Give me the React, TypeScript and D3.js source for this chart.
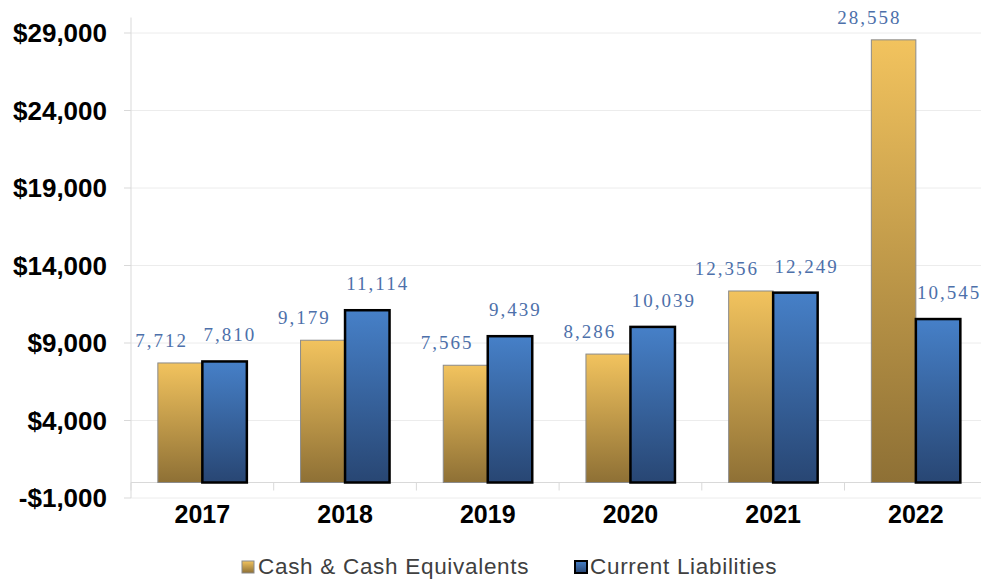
import React from "react";
import * as d3 from "d3";

const years = ["2017", "2018", "2019", "2020", "2021", "2022"];
const cashValues = [7712, 9179, 7565, 8286, 12356, 28558];
const liabilityValues = [7810, 11114, 9439, 10039, 12249, 10545];
const yTicks = [-1000, 4000, 9000, 14000, 19000, 24000, 29000];
const seriesNames = ["Cash & Cash Equivalents", "Current Liabilities"];

const W = 981;
const H = 580;

export default function App() {
  const left = 131;
  const catStep = 142.7;
  const x = d3
    .scaleBand<string>()
    .domain(years)
    .range([left, left + catStep * years.length])
    .paddingInner(0)
    .paddingOuter(0);
  const y = d3.scaleLinear().domain([-1000, 30000]).range([498, 17.5]);
  const groupW = 89;
  const barW = groupW / 2;
  const fmt = d3.format(",");

  const labelFont = "'Liberation Serif', 'Times New Roman', serif";
  const axisFont = "'Liberation Sans', Arial, sans-serif";
  const labelColor = "#4d70aa";

  return (
    <svg width={W} height={H} style={{ position: "absolute", left: 0, top: 0, background: "#fff" }}>
      <defs>
        <linearGradient id="gold" x1="0" y1="0" x2="0" y2="1">
          <stop offset="0%" stopColor="#f2c35e" />
          <stop offset="100%" stopColor="#8e7035" />
        </linearGradient>
        <linearGradient id="blue" x1="0" y1="0" x2="0" y2="1">
          <stop offset="0%" stopColor="#4680c8" />
          <stop offset="100%" stopColor="#284673" />
        </linearGradient>
      </defs>

      {/* gridlines */}
      {yTicks.map((t) => (
        <g key={t}>
          <line x1={left} x2={W} y1={y(t)} y2={y(t)} stroke="#ececec" strokeWidth={1} />
          <line x1={left - 7} x2={left} y1={y(t)} y2={y(t)} stroke="#d9d9d9" strokeWidth={1} />
          <text
            x={107}
            y={y(t)}
            dy="0.36em"
            textAnchor="end"
            fontFamily={axisFont}
            fontWeight="bold"
            fontSize={26}
            fill="#000"
          >
            {(t < 0 ? "-$" : "$") + fmt(Math.abs(t))}
          </text>
        </g>
      ))}

      {/* value axis line */}
      <line x1={left} x2={left} y1={y(30000)} y2={y(-1000)} stroke="#d9d9d9" strokeWidth={1} />

      {/* category axis at zero */}
      <line x1={left} x2={W} y1={y(0)} y2={y(0)} stroke="#d9d9d9" strokeWidth={1} />
      {years.map((yr, i) => (
        <line
          key={"tk" + yr}
          x1={left + catStep * i}
          x2={left + catStep * i}
          y1={y(0)}
          y2={y(0) + 8}
          stroke="#d9d9d9"
          strokeWidth={1}
        />
      ))}

      {/* bars */}
      {years.map((yr, i) => {
        const cx = (x(yr) as number) + x.bandwidth() / 2;
        const x0 = cx - groupW / 2;
        const cTop = y(cashValues[i]);
        const lTop = y(liabilityValues[i]);
        return (
          <g key={yr}>
            <rect
              x={x0}
              y={cTop}
              width={barW}
              height={y(0) - cTop}
              fill="url(#gold)"
              stroke="#8a8a8a"
              strokeWidth={1}
            />
            <rect
              x={x0 + barW}
              y={lTop}
              width={barW}
              height={y(0) - lTop}
              fill="url(#blue)"
              stroke="#000"
              strokeWidth={2.5}
            />
            <text
              x={x0 + barW / 2 + 8}
              y={cTop - 16}
              textAnchor="end"
              fontFamily={labelFont}
              fontSize={19}
              letterSpacing={2}
              fill={labelColor}
            >
              {fmt(cashValues[i])}
            </text>
            <text
              x={x0 + barW * 1.5 - 21}
              y={lTop - 20}
              textAnchor="start"
              fontFamily={labelFont}
              fontSize={19}
              letterSpacing={2}
              fill={labelColor}
            >
              {fmt(liabilityValues[i])}
            </text>
            <text
              x={cx}
              y={523}
              textAnchor="middle"
              fontFamily={axisFont}
              fontWeight="bold"
              fontSize={25}
              fill="#000"
            >
              {yr}
            </text>
          </g>
        );
      })}

      {/* legend */}
      <g fontFamily={axisFont} fontSize={22.5} fill="#404040" letterSpacing={0.7}>
        <rect x={242} y={561} width={12} height={12} fill="url(#gold)" stroke="#8a8a8a" strokeWidth={1} />
        <text x={258} y={574}>{seriesNames[0]}</text>
        <rect x={575} y={561} width={12} height={12} fill="url(#blue)" stroke="#000" strokeWidth={2} />
        <text x={590} y={574}>{seriesNames[1]}</text>
      </g>
    </svg>
  );
}
